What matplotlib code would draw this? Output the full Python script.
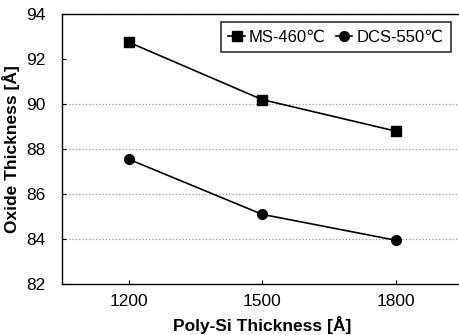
import matplotlib
matplotlib.use("Agg")
import matplotlib.pyplot as plt

categories = ["1200", "1500", "1800"]
ms_460 = [92.75, 90.2, 88.8]
dcs_550 = [87.55, 85.1, 83.95]
yticks = [82, 84, 86, 88, 90, 92, 94]

plt.rcParams['font.family'] = ['Liberation Sans', 'DejaVu Sans']

fig = plt.figure(figsize=(4.59, 3.35), dpi=100)
ax = fig.add_axes([0.135, 0.152, 0.872, 0.806])

x = list(range(len(categories)))
ax.plot(x, ms_460, color='black', marker='s', markersize=7, linewidth=1.2, label='MS-460℃')
ax.plot(x, dcs_550, color='black', marker='o', markersize=7, linewidth=1.2, label='DCS-550℃')

ax.set_xlim(-0.5, 2.5)
ax.set_ylim(82, 94)
ax.set_xticks(x)
ax.set_xticklabels(categories)
ax.set_yticks(yticks)
ax.yaxis.grid(True, linestyle=(0, (1, 2)), color='#888888', linewidth=0.8)
gl = ax.yaxis.get_gridlines()
gl[5].set_visible(False)
ax.set_axisbelow(True)

ax.tick_params(axis='both', direction='in', labelsize=12.5, length=3, width=0.8, colors='black')
ax.tick_params(axis='x', pad=7)
ax.tick_params(axis='y', pad=12)
for s in ['left', 'bottom', 'top']:
    ax.spines[s].set_linewidth(1.0)
ax.spines['right'].set_visible(False)

ax.set_xlabel('Poly-Si Thickness [Å]', fontsize=12.5, fontweight='bold', labelpad=5)
ax.set_ylabel('Oxide Thickness [Å]', fontsize=12.5, fontweight='bold', labelpad=4)

leg = ax.legend(loc='upper right', ncol=2, fontsize=12, frameon=True, fancybox=False,
                edgecolor='black', handlelength=1.0, handletextpad=0.25, columnspacing=0.6,
                borderpad=0.45, borderaxespad=0, bbox_to_anchor=(0.972, 0.97))
leg.get_frame().set_linewidth(1.2)

fig.savefig('out.png', dpi=100)
